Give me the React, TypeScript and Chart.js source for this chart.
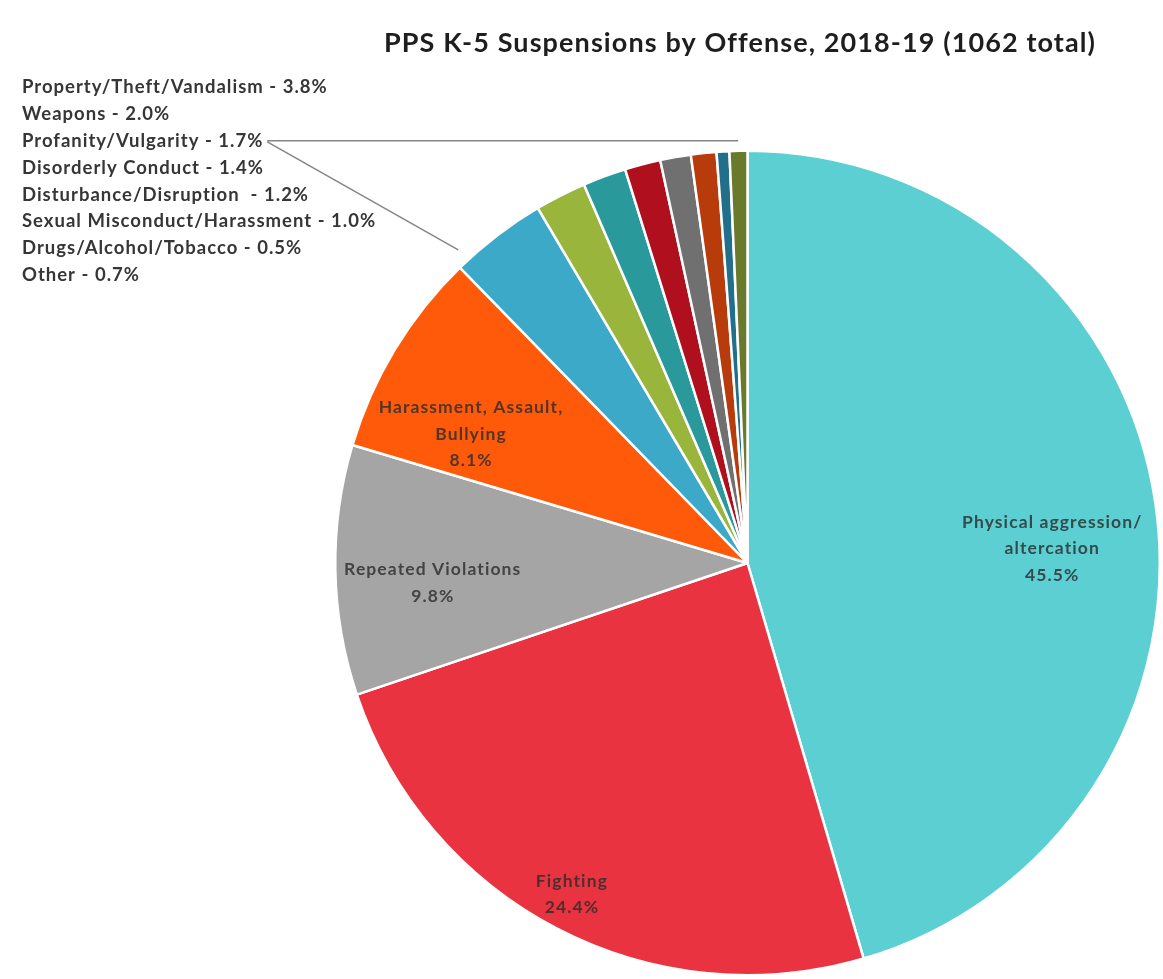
import React, { useEffect, useRef } from "react";
import { Chart, registerables } from "chart.js";

Chart.register(...registerables);

const TITLE = "PPS K-5 Suspensions by Offense, 2018-19 (1062 total)";

const categories = [
  "Physical aggression/altercation",
  "Fighting",
  "Repeated Violations",
  "Harassment, Assault, Bullying",
  "Property/Theft/Vandalism",
  "Weapons",
  "Profanity/Vulgarity",
  "Disorderly Conduct",
  "Disturbance/Disruption",
  "Sexual Misconduct/Harassment",
  "Drugs/Alcohol/Tobacco",
  "Other",
];

const percents = [45.5, 24.4, 9.8, 8.1, 3.8, 2.0, 1.7, 1.4, 1.2, 1.0, 0.5, 0.7];

const sliceColors = [
  "#5BCFD2",
  "#EA3340",
  "#A5A5A5",
  "#FF5A0A",
  "#3DA9C8",
  "#9AB53C",
  "#2A999C",
  "#B0101D",
  "#707070",
  "#B83B0B",
  "#216F8A",
  "#6A7A2C",
];

// inner label text lines (for the large slices), the rest go to the side list
const innerLabelLines: (string[] | null)[] = [
  ["Physical aggression/", "altercation"],
  ["Fighting"],
  ["Repeated Violations"],
  ["Harassment, Assault,", "Bullying"],
  null, null, null, null, null, null, null, null,
];

// legend list order on the left
const sideListOrder = [4, 5, 6, 7, 8, 9, 10, 11];
const sideListLabels = [
  "Property/Theft/Vandalism",
  "Weapons",
  "Profanity/Vulgarity",
  "Disorderly Conduct",
  "Disturbance/Disruption ",
  "Sexual Misconduct/Harassment",
  "Drugs/Alcohol/Tobacco",
  "Other",
];

// label placement: [radius fraction, angle offset in degrees]
const innerLabelPlace: ([number, number] | null)[] = [
  [0.74, 5.5],
  [0.91, 0.4],
  [0.765, -2.6],
  [0.74, -6.2],
  null, null, null, null, null, null, null, null,
];

const fmt = (v: number) => v.toFixed(1) + "%";

const overlayPlugin = {
  id: "overlay",
  afterDraw(chart: any) {
    const ctx = chart.ctx as any;
    const meta = chart.getDatasetMeta(0);
    const arcs = meta.data as any[];
    ctx.save();

    // title
    ctx.fillStyle = "#1E1E1E";
    ctx.font = "bold 27px Lato";
    ctx.letterSpacing = "1.1px";
    ctx.textAlign = "center";
    ctx.textBaseline = "middle";
    ctx.fillText(TITLE, 740, 43);

    // inner labels
    ctx.font = "bold 17.5px Lato";
    ctx.letterSpacing = "1.1px";
    ctx.fillStyle = "rgba(45,45,45,0.82)";
    arcs.forEach((arc, i) => {
      const lines = innerLabelLines[i];
      const place = innerLabelPlace[i];
      if (!lines || !place) return;
      const { x, y, startAngle, endAngle, outerRadius } = arc.getProps(
        ["x", "y", "startAngle", "endAngle", "outerRadius"],
        true
      );
      const mid = (startAngle + endAngle) / 2 + (place[1] * Math.PI) / 180;
      const r = outerRadius * place[0];
      const cx = x + Math.cos(mid) * r;
      const cy = y + Math.sin(mid) * r;
      const all = [...lines, fmt(percents[i])];
      const lh = 26.5;
      const y0 = cy - ((all.length - 1) * lh) / 2;
      all.forEach((t, k) => ctx.fillText(t, cx, y0 + k * lh));
    });

    // side list
    ctx.font = "bold 18.5px Lato";
    ctx.letterSpacing = "1px";
    ctx.fillStyle = "#363636";
    ctx.textAlign = "left";
    const lx = 22;
    const ly0 = 87;
    const lstep = 26.9;
    let profEnd = { x: 0, y: 0 };
    sideListOrder.forEach((idx, k) => {
      const t = sideListLabels[k] + " - " + fmt(percents[idx]);
      const yy = ly0 + k * lstep;
      ctx.fillText(t, lx, yy);
      if (idx === 6) {
        profEnd = { x: lx + ctx.measureText(t).width + 4, y: yy };
      }
    });

    // leader lines
    const first = arcs[0];
    const { x: px, y: py, outerRadius: R } = first.getProps(["x", "y", "outerRadius"], true);
    const otherArc = arcs[11].getProps(["startAngle", "endAngle"], true);
    const propArc = arcs[4].getProps(["startAngle"], true);
    const hx = px + Math.cos((otherArc.startAngle + otherArc.endAngle) / 2) * (R + 11);
    const dA = propArc.startAngle + (1.5 * Math.PI) / 180;
    const dx = px + Math.cos(dA) * (R + 14);
    const dy = py + Math.sin(dA) * (R + 14);
    ctx.strokeStyle = "#858585";
    ctx.lineWidth = 1.5;
    ctx.beginPath();
    ctx.moveTo(profEnd.x, profEnd.y);
    ctx.lineTo(hx, profEnd.y);
    ctx.moveTo(profEnd.x, profEnd.y + 1);
    ctx.lineTo(dx, dy);
    ctx.stroke();

    ctx.restore();
  },
};

export default function App() {
  const ref = useRef<HTMLCanvasElement | null>(null);
  useEffect(() => {
    if (!ref.current) return;
    const chart = new Chart(ref.current, {
      type: "pie",
      data: {
        labels: categories,
        datasets: [
          {
            data: percents,
            backgroundColor: sliceColors,
            borderColor: "#FFFFFF",
            borderWidth: 2.5,
          },
        ],
      },
      options: {
        animation: false,
        responsive: false,
        maintainAspectRatio: false,
        layout: { padding: { left: 334, right: 2, top: 148, bottom: 1 } },
        plugins: {
          legend: { display: false },
          title: { display: false },
          tooltip: { enabled: false },
        },
      },
      plugins: [overlayPlugin],
    });
    return () => chart.destroy();
  }, []);
  return (
    <div style={{ position: "absolute", left: 0, top: 0, width: 1163, height: 979, background: "#fff" }}>
      <canvas ref={ref} width={1163} height={979} style={{ width: 1163, height: 979 }} />
    </div>
  );
}
